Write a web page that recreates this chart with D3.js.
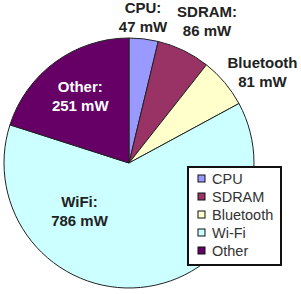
<!DOCTYPE html>
<html>
<head>
<meta charset="utf-8">
<script src="https://cdn.jsdelivr.net/npm/d3@7"></script>
<style>
  body { margin: 0; background: #fff; }
  svg { display: block; font-family: "Liberation Sans", Arial, sans-serif; }
</style>
</head>
<body>
<div id="chart"></div>
<script>
// data
const parts = ["CPU", "SDRAM", "Bluetooth", "WiFi", "Other"];
const labelNames = ["CPU:", "SDRAM:", "Bluetooth", "WiFi:", "Other:"];
const legendNames = ["CPU", "SDRAM", "Bluetooth", "Wi-Fi", "Other"];
const power = [47, 86, 81, 786, 251];
const colors = ["#9999ff", "#993366", "#ffffcc", "#ccffff", "#660066"];

const width = 301, height = 294;
const cx = 129, cy = 163, radius = 125;

const svg = d3.select("#chart").append("svg")
  .attr("width", width)
  .attr("height", height);

const g = svg.append("g").attr("transform", `translate(${cx},${cy})`);

const pie = d3.pie().sort(null).value(d => d.value);
const arc = d3.arc().innerRadius(0).outerRadius(radius);

const slices = pie(parts.map((p, i) => ({ name: p, label: labelNames[i], value: power[i], color: colors[i] })));

g.selectAll("path.slice")
  .data(slices)
  .enter()
  .append("path")
  .attr("class", "slice")
  .attr("d", arc)
  .attr("fill", d => d.data.color)
  .attr("stroke", "#222")
  .attr("stroke-width", 1);

// label placement: angle (deg, clockwise from top) and distance from centre
const labelPlace = {
  CPU: [5.5, 146, "#222"],
  SDRAM: [29, 161, "#222"],
  Bluetooth: [56, 161, "#222"],
  WiFi: [225, 70, "#222"],
  Other: [323.5, 82, "#fff"]
};

slices.forEach(d => {
  const [deg, r, fill] = labelPlace[d.data.name];
  const a = deg * Math.PI / 180;
  const x = Math.sin(a) * r, y = -Math.cos(a) * r;
  const t = g.append("text")
    .attr("text-anchor", "middle")
    .attr("font-size", "15px")
    .attr("font-weight", "bold")
    .attr("fill", fill);
  t.append("tspan").attr("x", x).attr("y", y - 5).text(d.data.label);
  t.append("tspan").attr("x", x).attr("y", y + 14).text(d.data.value + " mW");
});

// legend
const legend = svg.append("g").attr("transform", "translate(188,167)");
legend.append("rect")
  .attr("width", 93)
  .attr("height", 98)
  .attr("fill", "#fff")
  .attr("stroke", "#111")
  .attr("stroke-width", 2);

const rows = legend.selectAll("g.row")
  .data(legendNames)
  .enter()
  .append("g")
  .attr("class", "row")
  .attr("transform", (d, i) => `translate(10,${12 + i * 18})`);

rows.append("rect")
  .attr("x", 0).attr("y", -4)
  .attr("width", 7).attr("height", 7)
  .attr("fill", (d, i) => colors[i])
  .attr("stroke", "#111")
  .attr("stroke-width", 1);

rows.append("text")
  .attr("x", 14)
  .attr("y", 5)
  .attr("font-size", "14.5px")
  .attr("fill", "#333")
  .text(d => d);
</script>
</body>
</html>
